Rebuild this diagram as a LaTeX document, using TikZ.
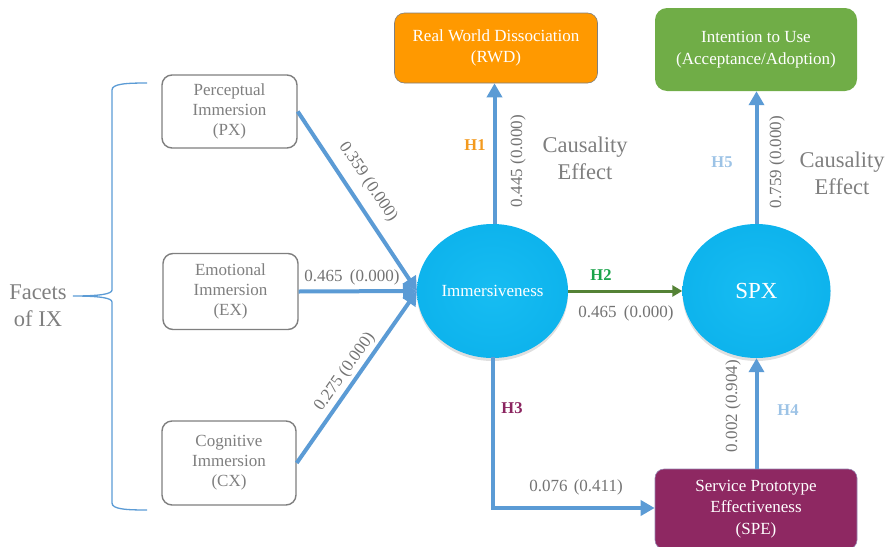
\documentclass[tikz,border=0pt]{standalone}
\usepackage{fontspec}
\setmainfont{Liberation Serif}
\usetikzlibrary{arrows.meta,shadows,shapes.geometric}
\definecolor{boxgray}{HTML}{7F7F7F}
\definecolor{numgray}{HTML}{737373}
\definecolor{arrblue}{HTML}{5B9BD5}
\definecolor{arrgreen}{HTML}{548235}
\definecolor{rwdorange}{HTML}{FF9900}
\definecolor{intgreen}{HTML}{70AD47}
\definecolor{spepurple}{HTML}{8E2862}
\definecolor{hone}{HTML}{F39A1E}
\definecolor{htwo}{HTML}{1AA34A}
\definecolor{hthree}{HTML}{8B2560}
\definecolor{hfour}{HTML}{9DC3E6}
\pgfdeclareradialshading{ellshade}{\pgfpoint{0bp}{0bp}}{rgb(0bp)=(0.09,0.74,0.95); rgb(34bp)=(0.04,0.69,0.92); rgb(50bp)=(0.02,0.58,0.82)}
\begin{document}
\begin{tikzpicture}[x=1pt,y=-1pt,
  facet/.style={draw=boxgray,line width=1.4pt,rounded corners=10pt,fill=white,
    text=boxgray,align=center,inner sep=0pt,font=\fontsize{17}{20}\selectfont},
  topbox/.style={rounded corners=10pt,text=white,align=center,inner sep=0pt,
    font=\fontsize{17}{21.5}\selectfont},
  latent/.style={ellipse,shading=ellshade,text=white,inner sep=0pt,
    drop shadow={opacity=0.25,shadow xshift=0pt,shadow yshift=-3pt}},
  blueline/.style={draw=arrblue,line width=4pt,-{Triangle[width=15pt,length=14pt]}},
  num/.style={text=numgray,font=\fontsize{17}{18}\selectfont,inner sep=0pt},
  hyp/.style={font=\bfseries\fontsize{16.5}{18}\selectfont,inner sep=0pt},
  caus/.style={text=boxgray,align=center,inner sep=0pt,font=\fontsize{22.5}{27}\selectfont},
]
\useasboundingbox (0,0) rectangle (885,546);
\begin{scope}
\clip (0,0) rectangle (885,546);
% facet boxes
\node[facet,minimum width=135pt,minimum height=73pt] (px) at (229.5,111.5) {Perceptual\\Immersion\\(PX)};
\node[facet,minimum width=135pt,minimum height=76pt] (ex) at (230.5,291.5) {Emotional\\Immersion\\(EX)};
\node[facet,minimum width=134pt,minimum height=84pt] (cx) at (229,463) {Cognitive\\Immersion\\(CX)};
% top boxes
\node[topbox,fill=rwdorange,draw=boxgray,line width=0.6pt,minimum width=203pt,minimum height=70pt] (rwd) at (496,48) {Real World Dissociation\\(RWD)};
\node[topbox,fill=intgreen,rounded corners=12pt,minimum width=202pt,minimum height=83pt] (itu) at (756,49.5) {Intention to Use\\(Acceptance/Adoption)};
\node[topbox,fill=spepurple,draw=hfour!60!spepurple,line width=0.6pt,rounded corners=9pt,minimum width=202pt,minimum height=80pt] (spe) at (756,509) {Service Prototype\\Effectiveness\\(SPE)};
% latent ellipses
\node[latent,minimum width=151pt,minimum height=134pt,font=\fontsize{17}{20}\selectfont] (imm) at (492.5,291) {Immersiveness};
\node[latent,minimum width=148pt,minimum height=134pt,font=\fontsize{23}{26}\selectfont] (spx) at (756.5,291) {SPX};
% brace
\draw[arrblue,line width=1.3pt] (147,83) .. controls (125,83) and (112,84) .. (112,90) -- (112,290) .. controls (112,294) and (100,296) .. (73,296) .. controls (100,296) and (112,298) .. (112,302) -- (112,503) .. controls (112,509) and (125,510) .. (147,510);
\node[caus] (facets) at (38,306) {Facets\\of IX};
% connectors into Immersiveness
\coordinate (immin) at (417,291);
\draw[blueline] (px.east) -- (immin);
\draw[blueline] (ex.east) -- (immin);
\draw[blueline] (cx.east) -- (immin);
% H1
\coordinate (immtop) at (494.5,224);
\draw[blueline] (immtop) -- (rwd.south -| immtop);
% H2
\draw[draw=arrgreen,line width=3pt,-{Triangle[width=11pt,length=10pt]}] (imm.east) -- (spx.west);
% H3
\coordinate (immbot) at (493,357);
\draw[blueline] (immbot) |- (spe.west |- 0,508) ;
% H4, H5
\draw[blueline] (spe.north -| spx.south) -- (spx.south);
\draw[blueline] (spx.north) -- (itu.south -| spx.north);
\end{scope}
% labels
\node[num,rotate=-56] (l1) at (368,182) {0.359 (0.000)};
\node[num] (l2) at (352,277) {0.465\hspace{3pt} (0.000)};
\node[num,rotate=54.7] (l3) at (345,372) {0.275 (0.000)};
\node[num,rotate=90] (l4) at (518,161) {0.445 (0.000)};
\node[hyp,text=hone] (h1) at (475,145) {H1};
\node[caus] (c1) at (585,158) {Causality\\Effect};
\node[hyp,text=htwo] (h2) at (601,275) {H2};
\node[num] (l5) at (626,313) {0.465\hspace{3pt} (0.000)};
\node[hyp,text=hthree] (h3) at (512,408) {H3};
\node[num] (l6) at (576,487) {0.076\hspace{2pt} (0.411)};
\node[num,rotate=90] (l7) at (733,406) {0.002 (0.904)};
\node[hyp,text=hfour] (h4) at (788,410) {H4};
\node[hyp,text=hfour] (h5) at (722,162) {H5};
\node[num,rotate=90] (l8) at (777,162) {0.759 (0.000)};
\node[caus] (c2) at (842,173) {Causality\\Effect};
\end{tikzpicture}
\end{document}
